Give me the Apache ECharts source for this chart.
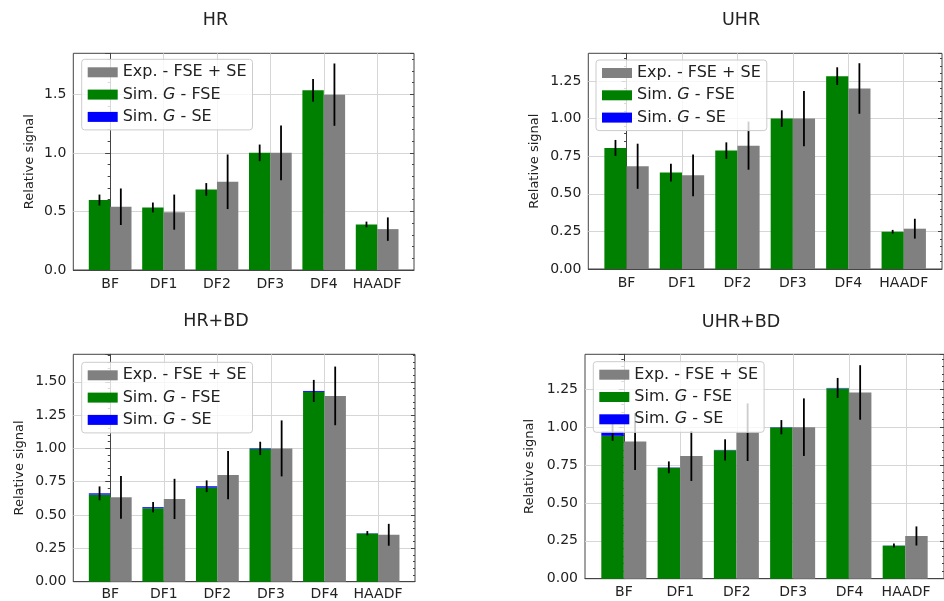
<!DOCTYPE html>
<html><head><meta charset="utf-8">
<script src="https://cdn.jsdelivr.net/npm/echarts@6/dist/echarts.min.js"></script>
<style>html,body{margin:0;padding:0;background:#fff}#c{width:944px;height:601px}</style>
</head><body><div id="c"></div>
<script>
// ---------- data ----------
const categories = ['BF', 'DF1', 'DF2', 'DF3', 'DF4', 'HAADF'];
const nameExp = 'Exp. - FSE + SE';
const nameFSE = 'Sim. G - FSE';
const nameSE = 'Sim. G - SE';
const panelTitles = ['HR', 'UHR', 'HR+BD', 'UHR+BD'];

const hrSimFSE = [0.597, 0.534, 0.688, 1.0, 1.534, 0.389];
const hrSimSE  = [0, 0, 0, 0, 0, 0];
const hrSimErr = [0.047, 0.042, 0.054, 0.071, 0.097, 0.024];
const hrExp    = [0.54, 0.494, 0.753, 1.0, 1.497, 0.349];
const hrExpErr = [0.156, 0.15, 0.233, 0.234, 0.266, 0.10];

const uhrSimFSE = [0.805, 0.641, 0.787, 1.0, 1.282, 0.248];
const uhrSimSE  = [0, 0, 0, 0, 0, 0];
const uhrSimErr = [0.053, 0.059, 0.055, 0.055, 0.059, 0.012];
const uhrExp    = [0.683, 0.623, 0.820, 1.0, 1.2, 0.268];
const uhrExpErr = [0.15, 0.139, 0.16, 0.184, 0.168, 0.066];

const hrbdSimFSE = [0.653, 0.551, 0.706, 0.995, 1.424, 0.362];
const hrbdSimSE  = [0.010, 0.008, 0.010, 0.005, 0.007, 0.002];
const hrbdSimErr = [0.052, 0.039, 0.044, 0.05, 0.083, 0.016];
const hrbdExp    = [0.633, 0.621, 0.80, 1.0, 1.394, 0.352];
const hrbdExpErr = [0.16, 0.151, 0.181, 0.21, 0.22, 0.082];

const uhrbdSimFSE = [0.943, 0.733, 0.848, 0.998, 1.256, 0.218];
const uhrbdSimSE  = [0.027, 0.002, 0.002, 0.002, 0.003, 0.001];
const uhrbdSimErr = [0.06, 0.039, 0.07, 0.047, 0.066, 0.013];
const uhrbdExp    = [0.905, 0.81, 0.967, 1.0, 1.229, 0.282];
const uhrbdExpErr = [0.187, 0.165, 0.19, 0.19, 0.18, 0.063];

const yMaxes = [1.85, 1.434, 1.706, 1.481];
const yIntervals = [0.5, 0.25, 0.25, 0.25];
const yDecimals = [1, 2, 2, 2];

// ---------- layout / style ----------
const panels = [
  {fse: hrSimFSE, se: hrSimSE, serr: hrSimErr, exp: hrExp, eerr: hrExpErr,
   L: 73.3, R: 414, T: 53.3, B: 270, legend: [81.7, 59.3], title: [215.5, 20], nameGap: 37},
  {fse: uhrSimFSE, se: uhrSimSE, serr: uhrSimErr, exp: uhrExp, eerr: uhrExpErr,
   L: 588.3, R: 942, T: 53.3, B: 269, legend: [596, 60], title: [741, 20], nameGap: 47},
  {fse: hrbdSimFSE, se: hrbdSimSE, serr: hrbdSimErr, exp: hrbdExp, eerr: hrbdExpErr,
   L: 73.3, R: 415, T: 354.3, B: 581.7, legend: [81.7, 362.3], title: [216, 321.7], nameGap: 47},
  {fse: uhrbdSimFSE, se: uhrbdSimSE, serr: uhrbdSimErr, exp: uhrbdExp, eerr: uhrbdExpErr,
   L: 585, R: 945, T: 354.3, B: 578.7, legend: [593.3, 361.7], title: [741, 322], nameGap: 49}
];
const W = 944, H = 601;
const FONT = '"DejaVu Sans", sans-serif';
const cGreen = '#008000', cGrey = '#808080', cBlue = '#0000ff';
const spine = '#444', gridC = '#d6d6d6', txt = '#222';
const XMIN = -0.69, XMAX = 5.69;

function rectRender(offL, offR) {
  return function (params, api) {
    const i = api.value(0), lo = api.value(1), hi = api.value(2);
    const p0 = api.coord([i + offL, hi]);
    const p1 = api.coord([i + offR, lo]);
    return {type: 'rect', shape: {x: p0[0], y: p0[1], width: p1[0] - p0[0], height: p1[1] - p0[1]},
            style: {fill: api.visual('color')}};
  };
}
function errRender(off) {
  return function (params, api) {
    const i = api.value(0), c = api.value(1), e = api.value(2);
    const a = api.coord([i + off, c - e]);
    const b = api.coord([i + off, c + e]);
    return {type: 'line', shape: {x1: a[0], y1: a[1], x2: b[0], y2: b[1]},
            style: {stroke: '#000', lineWidth: 1.8}};
  };
}

const grid = [], xAxis = [], yAxis = [], series = [], legend = [], graphic = [];
panels.forEach((p, k) => {
  const unit = (p.R - p.L) / (XMAX - XMIN);
  const c0 = p.L + (0 - XMIN) * unit;
  const c5 = p.L + (5 - XMIN) * unit;
  grid.push({left: p.L, right: W - p.R, top: p.T, bottom: H - p.B, show: true,
             borderColor: spine, borderWidth: 1, backgroundColor: 'transparent'});
  grid.push({left: c0, right: W - c5, top: p.T, bottom: H - p.B});
  const gA = 2 * k, gB = 2 * k + 1;
  xAxis.push({type: 'value', gridIndex: gA, min: XMIN, max: XMAX,
              axisLine: {show: true, lineStyle: {color: spine}}, axisTick: {show: false},
              axisLabel: {show: false}, splitLine: {show: false}});
  xAxis.push({type: 'category', gridIndex: gB, data: categories, boundaryGap: false,
              axisLine: {show: false}, axisTick: {show: false},
              axisLabel: {interval: 0, fontSize: 14, fontFamily: FONT, color: txt, margin: 7},
              splitLine: {show: true, interval: 0, lineStyle: {color: gridC, width: 1}}});
  const dec = yDecimals[k];
  yAxis.push({type: 'value', gridIndex: gA, min: 0, max: yMaxes[k], interval: yIntervals[k],
              axisLine: {show: true, lineStyle: {color: spine}},
              axisTick: {show: true, length: 5, lineStyle: {color: spine}},
              minorTick: {show: true, splitNumber: 5, length: 2.5, lineStyle: {color: spine}},
              axisLabel: {fontSize: 14, fontFamily: FONT, color: txt, margin: 7, showMaxLabel: false,
                          formatter: v => v.toFixed(dec)},
              splitLine: {show: true, showMaxLine: false, lineStyle: {color: gridC, width: 1}},
              name: 'Relative signal', nameLocation: 'middle', nameGap: p.nameGap,
              nameTextStyle: {fontSize: 13, fontFamily: FONT, color: txt}});
  yAxis.push({type: 'value', gridIndex: gA, position: 'right', min: 0, max: yMaxes[k], interval: yIntervals[k],
              axisLine: {show: false},
              axisTick: {show: true, inside: true, length: 4, lineStyle: {color: spine}},
              minorTick: {show: true, splitNumber: 5, length: 2, lineStyle: {color: spine}},
              axisLabel: {show: false}, splitLine: {show: false}});
  yAxis.push({type: 'value', gridIndex: gB, show: false, min: 0, max: yMaxes[k], splitLine: {show: false}});
  const xi = 2 * k, yi = 3 * k;
  const base = {type: 'custom', coordinateSystem: 'cartesian2d', xAxisIndex: xi, yAxisIndex: yi,
                silent: true, animation: false, encode: {x: 0, y: [1, 2]}};
  series.push(Object.assign({}, base, {name: nameFSE, itemStyle: {color: cGreen}, z: 2,
    renderItem: rectRender(-0.4, 0), data: p.fse.map((v, i) => [i, 0, v])}));
  series.push(Object.assign({}, base, {name: nameSE, itemStyle: {color: cBlue}, z: 2,
    renderItem: rectRender(-0.4, 0), data: p.se.map((v, i) => [i, p.fse[i], p.fse[i] + v])}));
  series.push(Object.assign({}, base, {name: nameExp, itemStyle: {color: cGrey}, z: 2,
    renderItem: rectRender(0, 0.4), data: p.exp.map((v, i) => [i, 0, v])}));
  series.push(Object.assign({}, base, {name: 'simErr' + k, z: 3,
    renderItem: errRender(-0.2), data: p.fse.map((v, i) => [i, v + p.se[i], p.serr[i]])}));
  series.push(Object.assign({}, base, {name: 'expErr' + k, z: 3,
    renderItem: errRender(0.2), data: p.exp.map((v, i) => [i, v, p.eerr[i]])}));
  legend.push({orient: 'vertical', left: p.legend[0], top: p.legend[1], selectedMode: false,
    data: [{name: nameExp, itemStyle: {color: cGrey}}, {name: nameFSE, itemStyle: {color: cGreen}},
           {name: nameSE, itemStyle: {color: cBlue}}],
    icon: 'rect', itemWidth: 30, itemHeight: 10, itemGap: 6.3, itemTextGap: 12,
    padding: [5, 6, 5, 6], backgroundColor: 'rgba(255,255,255,0.8)', borderColor: '#cccccc',
    borderWidth: 1, borderRadius: 3,
    formatter: n => n.replace(' G ', ' {i|G} '),
    textStyle: {fontSize: 16, fontFamily: FONT, color: txt, lineHeight: 15,
                rich: {i: {fontStyle: 'italic', fontSize: 16, fontFamily: FONT, color: txt}}}});
  graphic.push({type: 'text', x: p.title[0], y: p.title[1], silent: true,
    style: {text: panelTitles[k], textAlign: 'center', textVerticalAlign: 'middle',
            font: '17.5px ' + FONT, fill: txt}});
});

const chart = echarts.init(document.getElementById('c'), null, {renderer: 'canvas'});
chart.setOption({animation: false, backgroundColor: '#fff', grid, xAxis, yAxis, series, legend, graphic});
</script>
</body></html>
